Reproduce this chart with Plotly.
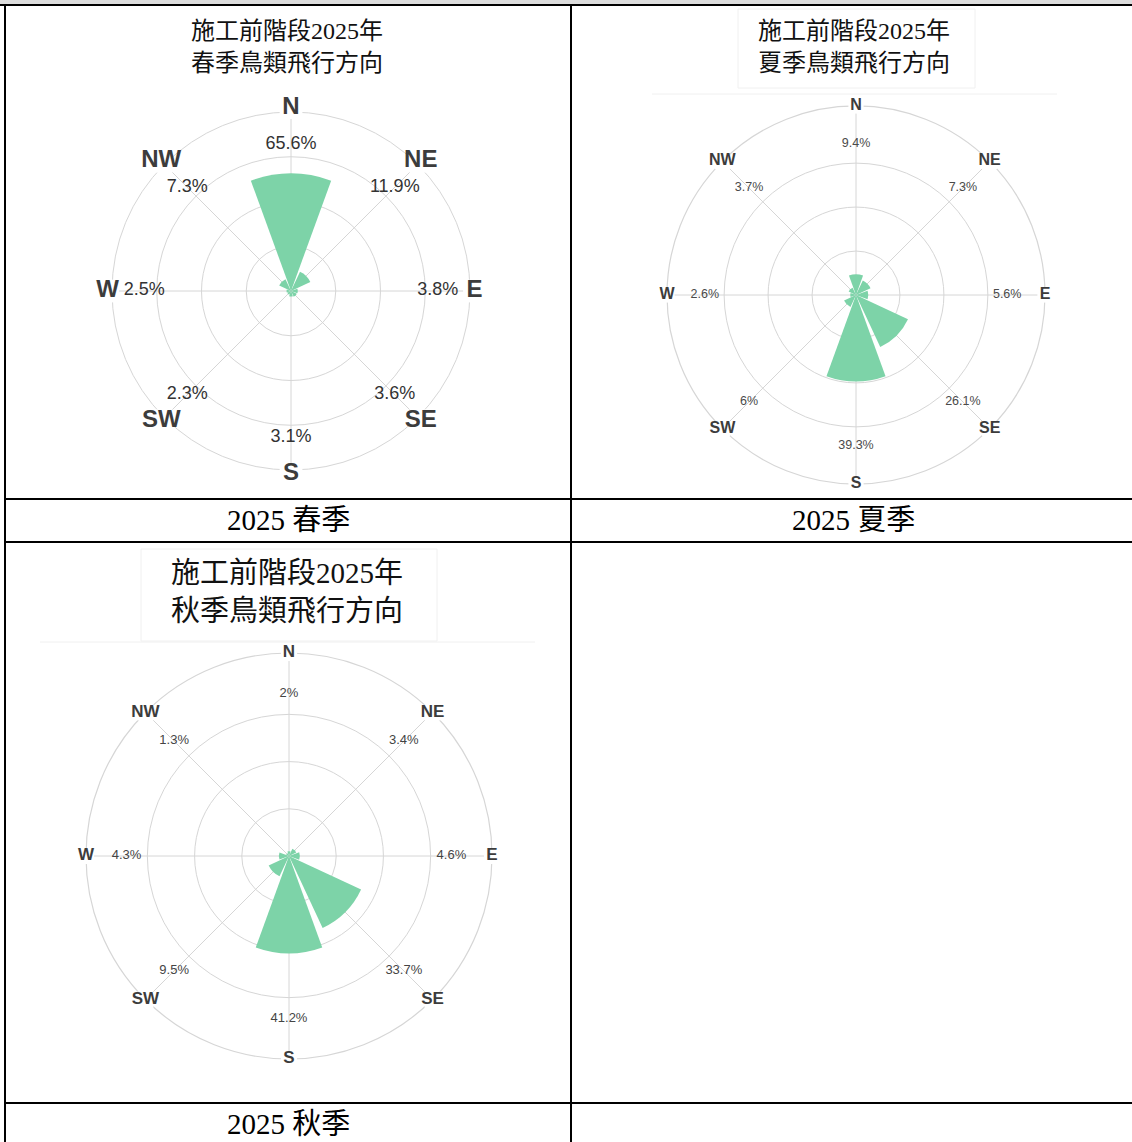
import plotly.graph_objects as go

W, H = 1132, 1142


def fx(px):
    return px / W


def fy(py):
    return 1 - py / H


# ---------------- data ----------------
directions = ["N", "NE", "E", "SE", "S", "SW", "W", "NW"]
angles = [0, 45, 90, 135, 180, 225, 270, 315]
spring_pct = [65.6, 11.9, 3.8, 3.6, 3.1, 2.3, 2.5, 7.3]
summer_pct = [9.4, 7.3, 5.6, 26.1, 39.3, 6.0, 2.6, 3.7]
autumn_pct = [2.0, 3.4, 4.6, 33.7, 41.2, 9.5, 4.3, 1.3]

spring_title = ["施工前階段2025年", "春季鳥類飛行方向"]
summer_title = ["施工前階段2025年", "夏季鳥類飛行方向"]
autumn_title = ["施工前階段2025年", "秋季鳥類飛行方向"]
captions = ["2025 春季", "2025 夏季", "2025 秋季"]

BAR = "#7dd3a8"
GRID = "#d6d6d6"
SERIF = "Liberation Serif, Noto Sans CJK TC, serif"
SANS = "Liberation Sans, Arial, sans-serif"

# cx, cy, r: centre and outer-circle radius in pixels; rmax: value of the outer circle
panels = [
    dict(name="polar", vals=spring_pct, cx=291, cy=291, r=179, rmax=100, pad=1.025,
         rings=[25, 50, 75, 100], dfs=24, pfs=18, pfac=0.82, pcol="#333333"),
    dict(name="polar2", vals=summer_pct, cx=856, cy=295, r=189, rmax=86, pad=1.0,
         rings=[20, 40, 60], dfs=16, pfs=12.5, pfac=0.80, pcol="#4a4a4a"),
    dict(name="polar3", vals=autumn_pct, cx=289, cy=856, r=203, rmax=86, pad=1.0,
         rings=[20, 40, 60], dfs=17, pfs=13, pfac=0.80, pcol="#444444"),
]

fig = go.Figure()
layout_polars = {}
for p in panels:
    sub = p["name"]
    vals = p["vals"]
    rng = p["rmax"] * p["pad"]
    fig.add_trace(go.Barpolar(
        r=vals, theta=angles, width=[40] * len(angles),
        marker=dict(color=BAR, line=dict(width=0)),
        subplot=sub, hoverinfo="skip", showlegend=False,
    ))
    # white patches behind the compass labels (hide the circle under them)
    fig.add_trace(go.Scatterpolar(
        r=[rng] * len(angles), theta=angles, mode="markers",
        marker=dict(symbol="square", size=p["dfs"] * 0.95, color="white"),
        subplot=sub, hoverinfo="skip", showlegend=False, cliponaxis=False,
    ))
    fig.add_trace(go.Scatterpolar(
        r=[rng] * len(angles), theta=angles, mode="text",
        text=directions, textposition="middle center",
        textfont=dict(family=SANS, size=p["dfs"], color="#3c3c3c", weight="bold"),
        subplot=sub, hoverinfo="skip", showlegend=False, cliponaxis=False,
    ))
    fig.add_trace(go.Scatterpolar(
        r=[p["rmax"] * p["pfac"]] * len(angles), theta=angles, mode="text",
        text=[f"{v:g}%" for v in vals], textposition="middle center",
        textfont=dict(family=SANS, size=p["pfs"], color=p["pcol"]),
        subplot=sub, hoverinfo="skip", showlegend=False, cliponaxis=False,
    ))
    cx, cy = p["cx"], p["cy"]
    r = p["r"] * p["pad"]
    layout_polars[sub] = dict(
        domain=dict(x=[fx(cx - r), fx(cx + r)], y=[fy(cy + r), fy(cy - r)]),
        bgcolor="rgba(0,0,0,0)",
        radialaxis=dict(range=[0, rng], tickvals=p["rings"],
                        showticklabels=False, ticks="", showline=False,
                        gridcolor=GRID, gridwidth=1.2, layer="below traces"),
        angularaxis=dict(rotation=90, direction="clockwise", tickvals=angles,
                         showticklabels=False, ticks="",
                         showline=(p["pad"] == 1.0),
                         linecolor=GRID, linewidth=1.2, gridcolor=GRID,
                         gridwidth=1.2, layer="below traces"),
    )

shapes = []


def hline(y, x0, x1, color="black", w=2):
    shapes.append(dict(type="line", xref="paper", yref="paper",
                       x0=fx(x0), x1=fx(x1), y0=fy(y), y1=fy(y),
                       line=dict(color=color, width=w)))


def vline(x, y0, y1, color="black", w=2):
    shapes.append(dict(type="line", xref="paper", yref="paper",
                       x0=fx(x), x1=fx(x), y0=fy(y0), y1=fy(y1),
                       line=dict(color=color, width=w)))


# faint edges of the pasted images
shapes.append(dict(type="rect", xref="paper", yref="paper",
                   x0=fx(738), x1=fx(975), y0=fy(88), y1=fy(9),
                   line=dict(color="#f0f0f0", width=1), fillcolor="rgba(0,0,0,0)"))
hline(94, 652, 1057, color="#f0f0f0", w=1)
shapes.append(dict(type="rect", xref="paper", yref="paper",
                   x0=fx(141), x1=fx(437), y0=fy(641), y1=fy(549),
                   line=dict(color="#f0f0f0", width=1), fillcolor="rgba(0,0,0,0)"))
hline(642, 40, 535, color="#f0f0f0", w=1)

# top gray strip
shapes.append(dict(type="rect", xref="paper", yref="paper",
                   x0=0, x1=1, y0=fy(4), y1=1,
                   line=dict(width=0), fillcolor="#dcdcdc"))
# table lines
hline(5, 0, W)
vline(5, 5, H)
vline(571, 5, H)
hline(499, 5, W)
hline(542, 5, W)
hline(1103, 5, W)

annotations = []


def text(x, y, s, size, family=SERIF, color="#111111"):
    annotations.append(dict(x=fx(x), y=fy(y), xref="paper", yref="paper",
                            text=s, showarrow=False, xanchor="center",
                            yanchor="middle",
                            font=dict(family=family, size=size, color=color)))


text(287, 31, spring_title[0], 24)
text(287, 63, spring_title[1], 24)
text(854, 31, summer_title[0], 24)
text(854, 63, summer_title[1], 24)
text(287, 573, autumn_title[0], 29)
text(287, 611, autumn_title[1], 29)
text(288, 520, captions[0], 29, color="black")
text(853, 520, captions[1], 29, color="black")
text(288, 1124, captions[2], 29, color="black")

fig.update_layout(
    width=W, height=H, margin=dict(l=0, r=0, t=0, b=0),
    paper_bgcolor="white", plot_bgcolor="white",
    showlegend=False, hovermode=False,
    shapes=shapes, annotations=annotations,
    **layout_polars,
)

fig.write_html(
    "out.html",
    config={"displayModeBar": False},
    post_script="document.body.style.margin='0';document.body.style.overflow='hidden';",
)
